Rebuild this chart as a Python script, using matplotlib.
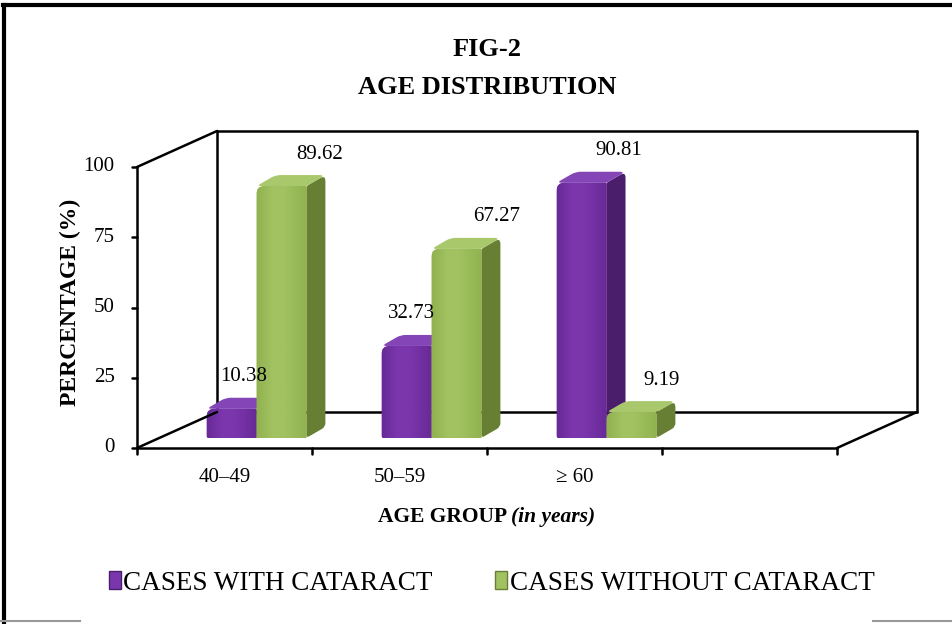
import numpy as np
import matplotlib
matplotlib.use('Agg')
import matplotlib.pyplot as plt
from matplotlib.patches import PathPatch, Patch
from matplotlib.path import Path
from matplotlib.lines import Line2D
from matplotlib.colors import LinearSegmentedColormap

#%% Datos
categories = ['40\u201349', '50\u201359', '\u2265 60']
with_cataract = [10.38, 32.73, 90.81]
without_cataract = [89.62, 67.27, 9.19]
series_names = ['CASES WITH CATARACT', 'CASES WITHOUT CATARACT']
yticks = [0, 25, 50, 75, 100]
n_slots = 4   # Excel deja un hueco vacio al final

#%% Estilo
serif = 'Liberation Serif'
# frente (oscuro, claro), lado, arriba
purple = ('#682A96', '#7B36AD', '#4B1E6C', '#8446B6')
green = ('#91B24F', '#A2C262', '#677F33', '#A8C86B')
label_dx = [[0.07, 0.03, 0.21], [0.22, 0.23, 0.17]]   # ajuste de etiquetas

SX, SY = 175.0, 2.81                 # px por unidad de datos
DX, DY = 80 / SX, 36 / SY            # profundidad de la caja
bar_d0 = 0.28
bar_bx, bar_by = 19 / SX, 11 / SY    # fondo de la barra
bar_w = 0.285
bar_x0 = 0.27

fig = plt.figure(figsize=(9.53, 6.24), dpi=100)
ax = fig.add_axes([137 / 953, 176 / 624, 780 / 953, 317 / 624])
ax.axis('off')

k = dict(color='black', lw=1.8, solid_capstyle='round', clip_on=False)
# paredes del fondo (detras de las barras)
ax.plot([DX, n_slots + DX], [DY, DY], zorder=0.5, **k)
ax.plot([DX, DX], [DY, 100 + DY], zorder=0.5, **k)
ax.plot([DX, n_slots + DX], [100 + DY, 100 + DY], zorder=0.5, **k)
ax.plot([n_slots + DX, n_slots + DX], [DY, 100 + DY], zorder=0.5, **k)
ax.plot([0, DX], [100, 100 + DY], zorder=0.5, **k)
# piso y eje
ax.plot([0, n_slots], [0, 0], zorder=5, **k)
ax.plot([0, DX], [0, DY], zorder=5, **k)
ax.plot([n_slots, n_slots + DX], [0, DY], zorder=5, **k)
ax.plot([0, 0], [0, 100], zorder=5, **k)

for t in yticks:
    ax.plot([0, -0.03], [t, t], zorder=5, **k)
    ax.annotate(str(t), (0, t), xytext=(-16, 0), textcoords='offset points',
                ha='right', va='center', fontsize=15, family=serif)
for i in range(n_slots + 1):
    ax.plot([i, i], [0, -2.0], zorder=5, **k)
for i, c in enumerate(categories):
    ax.annotate(c, (i + 0.5, 0), xytext=(0, -21), textcoords='offset points',
                ha='center', va='center', fontsize=15, family=serif)


def rpoly(pts, radii):
    # poligono con esquinas redondeadas (radios en px)
    p = np.array([(x * SX, y * SY) for x, y in pts])
    n = len(p)
    verts, codes = [], []
    for i in range(n):
        a, b, c = p[i - 1], p[i], p[(i + 1) % n]
        r = radii[i]
        u1 = (a - b) / np.linalg.norm(a - b)
        u2 = (c - b) / np.linalg.norm(c - b)
        r1 = min(r, np.linalg.norm(a - b) / 2)
        r2 = min(r, np.linalg.norm(c - b) / 2)
        s, e = b + u1 * r1, b + u2 * r2
        verts += [s, b, e]
        codes += [Path.MOVETO if i == 0 else Path.LINETO, Path.CURVE3, Path.CURVE3]
    verts.append(verts[0])
    codes.append(Path.CLOSEPOLY)
    v = np.array(verts) / [SX, SY]
    return Path(v, codes)


cmaps = {}
for cols in (purple, green):
    cmaps[cols] = LinearSegmentedColormap.from_list(
        'g', [(0, cols[0]), (0.3, cols[1]), (0.55, cols[1]), (1, cols[0])])
grad = np.linspace(0, 1, 64)[None, :]


def bar3d(x, v, cols, z):
    ox, oy = bar_d0 * DX, bar_d0 * DY
    bx, by = bar_bx, bar_by
    xl, xr = x + ox, x + ox + bar_w
    rr = min(8, v * SY / 2)
    side = [(xr, oy), (xr + bx, oy + by), (xr + bx, oy + by + v), (xr, oy + v)]
    top = [(xl, oy + v), (xr, oy + v), (xr + bx, oy + by + v), (xl + bx, oy + by + v)]
    front = [(xl, oy), (xr, oy), (xr, oy + v), (xl, oy + v)]
    ax.add_patch(PathPatch(rpoly(side, [3, 4, 6, 2]), fc=cols[2], ec='none',
                           zorder=z, clip_on=False))
    fp = PathPatch(rpoly(front, [2, 0, 0, rr]), fc=cols[0], ec='none',
                   zorder=z, clip_on=False)
    ax.add_patch(fp)
    im = ax.imshow(grad, extent=(xl, xr, oy, oy + v), cmap=cmaps[cols],
                   aspect='auto', zorder=z, interpolation='bilinear')
    im.set_clip_path(fp)
    ax.add_patch(PathPatch(rpoly(top, [5, 2, 6, 5]), fc=cols[3], ec='none',
                           zorder=z + 0.01, clip_on=False))


z = 2
for i in range(len(categories)):
    for j, (vals, cols) in enumerate([(with_cataract, purple), (without_cataract, green)]):
        x = i + bar_x0 + j * bar_w
        bar3d(x, vals[i], cols, z)
        z += 0.1

for i in range(len(categories)):
    for j, vals in enumerate([with_cataract, without_cataract]):
        x = i + bar_x0 + j * bar_w + bar_w / 2 + bar_d0 * DX + label_dx[j][i]
        ax.text(x, vals[i] + 15, '%.2f' % vals[i], ha='center', va='center',
                fontsize=15, family=serif, zorder=6)

ax.set_xlim(0, n_slots + DX)
ax.set_ylim(0, 100 + DY)

#%% Titulos
fig.text(0.511, 1 - 50 / 624, 'FIG-2', ha='center', va='center',
         fontsize=19, fontweight='bold', family=serif)
fig.text(0.511, 1 - 88 / 624, 'AGE DISTRIBUTION', ha='center', va='center',
         fontsize=19, fontweight='bold', family=serif)
fig.text(70 / 953, 1 - 302 / 624, 'PERCENTAGE (%)', rotation=90, ha='center',
         va='center', fontsize=17, fontweight='bold', family=serif)
t1 = fig.text(378 / 953, 1 - 517 / 624, 'AGE GROUP ', ha='left', va='center',
              fontsize=15.5, fontweight='bold', family=serif)
ax.annotate('(in years)', xy=(1, 0.5), xycoords=t1, ha='left', va='center',
            fontsize=15.5, fontweight='bold', fontstyle='italic', family=serif)

#%% Leyenda
handles = [Patch(fc=purple[1], ec=purple[2]), Patch(fc=green[1], ec=green[2])]
fig.legend(handles, series_names, loc='center', bbox_to_anchor=(0.516, 1 - 583 / 624),
           ncol=2, frameon=False, prop={'family': serif, 'size': 19.5},
           handlelength=0.45, handleheight=0.65, handletextpad=0.1, columnspacing=2.3)

#%% Marco
fig.add_artist(Line2D([4 / 953, 4 / 953], [0.0, 1 - 5 / 624], color='black', lw=3))
fig.add_artist(Line2D([3 / 953, 1.0], [1 - 5 / 624, 1 - 5 / 624], color='black', lw=3))
fig.add_artist(Line2D([0, 80 / 953], [3 / 624, 3 / 624], color='#999999', lw=1.5))
fig.add_artist(Line2D([873 / 953, 1.0], [3 / 624, 3 / 624], color='#999999', lw=1.5))

fig.savefig('out.png', dpi=100)
